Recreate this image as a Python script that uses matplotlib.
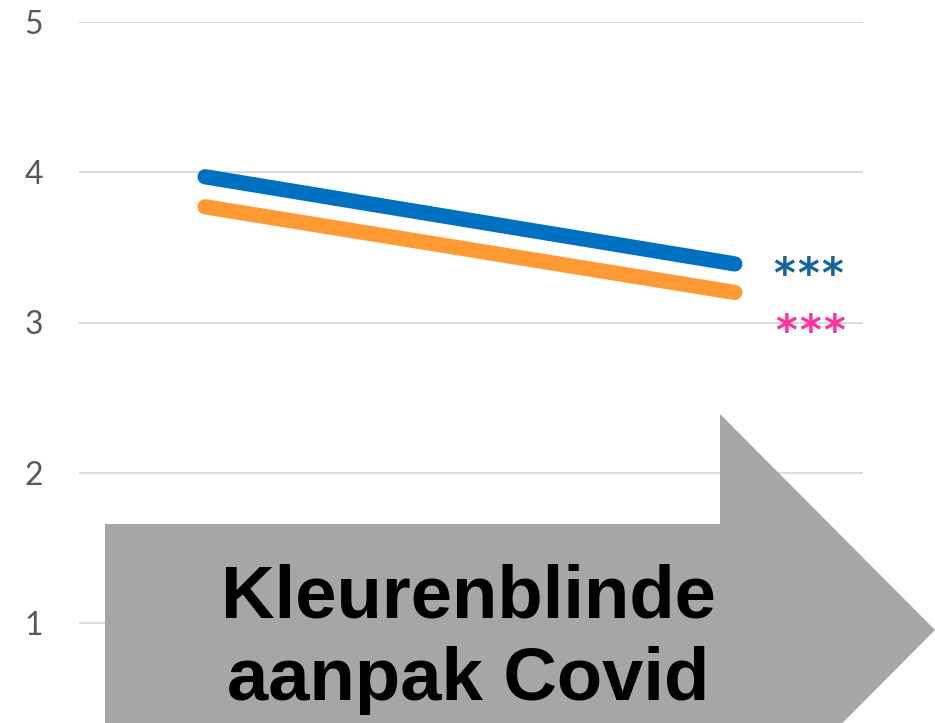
import matplotlib
matplotlib.use("Agg")
import matplotlib.pyplot as plt
from matplotlib.patches import Polygon

W, H = 935, 723

# Data
categories = ["voor", "na"]
blue_values = [3.97, 3.39]
orange_values = [3.77, 3.20]
yticks = [1, 2, 3, 4, 5]
sig_blue = "***"
sig_pink = "***"
arrow_label = ["Kleurenblinde", "aanpak Covid"]

fig = plt.figure(figsize=(W / 100, H / 100), dpi=100)
fig.patch.set_facecolor("white")

# axes placement (pixels)
ax_left, ax_right = 79, 863
y5_px, per_unit = 22, 150.25
top_frac = (H - y5_px) / H
height_frac = 5 * per_unit / H
ax = fig.add_axes([ax_left / W, top_frac - height_frac, (ax_right - ax_left) / W, height_frac])
ax.set_facecolor("none")

x = list(range(len(categories)))
ax.plot(x, blue_values, color="#0070c0", lw=11, solid_capstyle="round", zorder=3)
ax.plot(x, orange_values, color="#ff9933", lw=11, solid_capstyle="round", zorder=3)

ax.set_xlim(-0.238, 1.242)
ax.set_ylim(0, 5)
ax.set_yticks(yticks)
ax.set_yticklabels([str(v) for v in yticks], fontsize=23, color="#595959", family="Lato")
ax.set_xticks([])
ax.grid(axis="y", color="#d9d9d9", lw=1.3)
ax.set_axisbelow(True)
for s in ax.spines.values():
    s.set_visible(False)
ax.tick_params(axis="y", length=0, pad=26)

# significance asterisks, drawn one by one with spacing
for label, color, xs, ys in [(sig_blue, "#17659a", 1.093, 3.34), (sig_pink, "#ff3399", 1.097, 2.96)]:
    for i, ch in enumerate(label):
        ax.annotate(ch, xy=(xs, ys), xytext=(i * 24 * 0.72, 0), textcoords="offset points",
                    color=color, fontsize=30, fontweight="bold", family="DejaVu Sans",
                    ha="center", va="center_baseline", zorder=4)

# Arrow shape in pixel coords (top-origin) -> figure fraction
pts_px = [(105, 524), (720, 524), (720, 414), (935, 630), (720, 846), (720, 736), (105, 736)]
pts = [(px / W, (H - py) / H) for px, py in pts_px]
arrow = Polygon(pts, closed=True, facecolor="#a6a6a6", edgecolor="none",
                transform=fig.transFigure, zorder=5)
fig.patches.append(arrow)

for line, base in zip(arrow_label, [618, 700]):
    fig.text(468 / W, (H - base) / H, line, fontsize=53.5, fontweight="bold",
             family="Liberation Sans", color="black", ha="center", va="baseline", zorder=6)

fig.savefig("out.png", dpi=100)
